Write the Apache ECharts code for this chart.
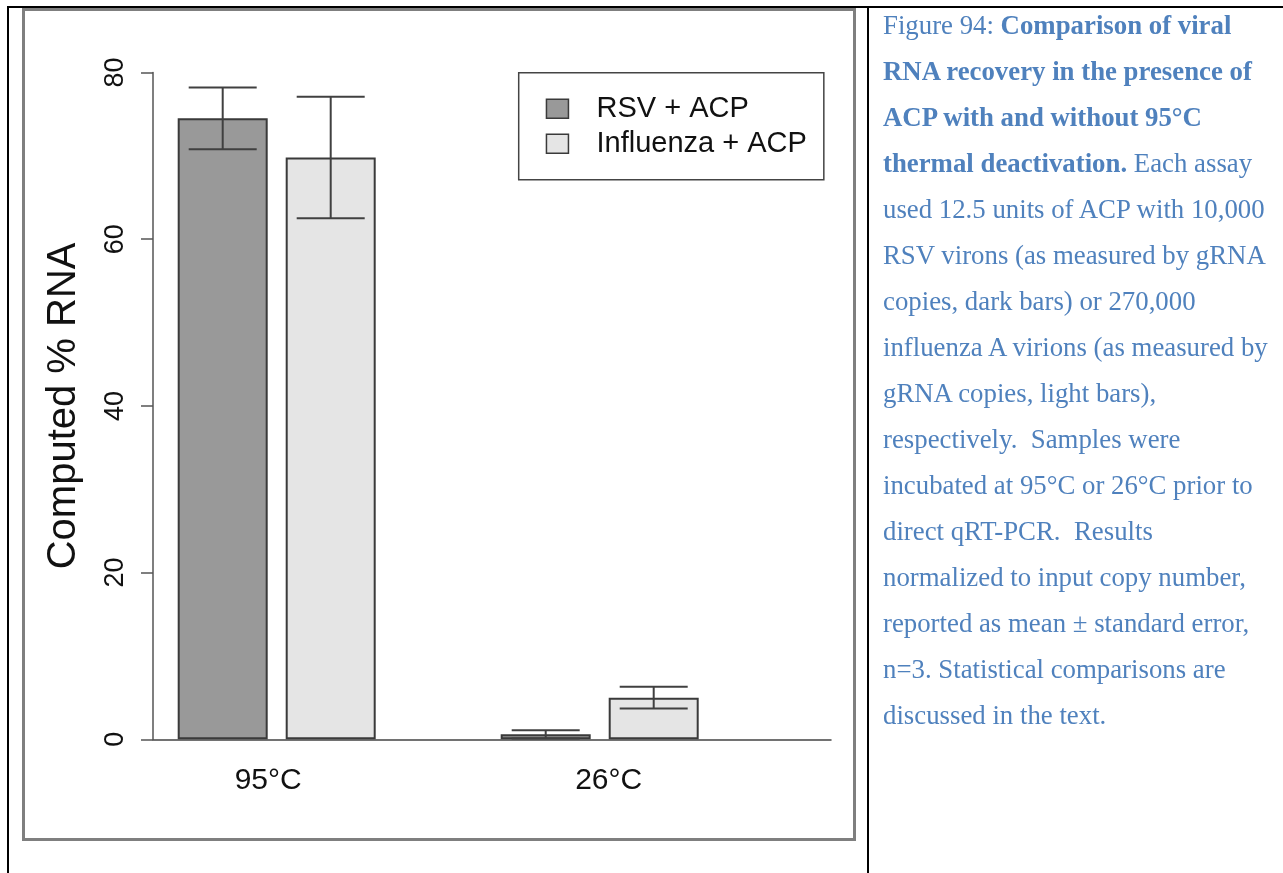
<!DOCTYPE html>
<html>
<head>
<meta charset="utf-8">
<script src="https://cdn.jsdelivr.net/npm/echarts@6/dist/echarts.min.js"></script>
<style>
  html, body { margin: 0; padding: 0; background: #fff; }
  #page { position: relative; width: 1283px; height: 873px; overflow: hidden; background: #fff; }
  .rule { position: absolute; background: #000; }
  #frame { position: absolute; left: 22px; top: 8px; width: 834px; height: 833px;
           box-sizing: border-box; border: 3px solid #7f7f7f; background: #fff; }
  #chart { position: absolute; left: 0; top: 0; width: 1283px; height: 873px; }
  #caption { position: absolute; left: 883px; top: 1.5px;
             font-family: "Liberation Serif", "Times New Roman", serif;
             font-size: 26.8px; line-height: 46px; color: #4F81BD; white-space: nowrap; }
  #caption b { font-weight: bold; }
</style>
</head>
<body>
<div id="page">
  <div class="rule" style="left:7px;top:6px;width:1276px;height:2px;"></div>
  <div class="rule" style="left:7px;top:6px;width:2px;height:867px;"></div>
  <div class="rule" style="left:867px;top:6px;width:2px;height:867px;"></div>
  <div id="frame"></div>
  <div id="chart"></div>
  <div id="caption">
    Figure 94: <b>Comparison of viral</b><br>
    <b>RNA recovery in the presence of</b><br>
    <b>ACP with and without 95°C</b><br>
    <b>thermal deactivation.</b> Each assay<br>
    used 12.5 units of ACP with 10,000<br>
    RSV virons (as measured by gRNA<br>
    copies, dark bars) or 270,000<br>
    influenza A virions (as measured by<br>
    gRNA copies, light bars),<br>
    respectively.&nbsp; Samples were<br>
    incubated at 95°C or 26°C prior to<br>
    direct qRT-PCR.&nbsp; Results<br>
    normalized to input copy number,<br>
    reported as mean ± standard error,<br>
    n=3. Statistical comparisons are<br>
    discussed in the text.
  </div>
</div>
<script>
// Incubation temperatures and series
const categories = ['95°C', '26°C'];
const seriesNames = ['RSV + ACP', 'Influenza + ACP'];

// Computed % RNA recovered: mean and standard error (n = 3)
const rsvMean = [74.5, 0.6];
const rsvSE = [3.7, 0.5];
const fluMean = [69.8, 5.0];
const fluSE = [7.3, 1.3];

// Y-axis tick values
const yTicks = [0, 20, 40, 60, 80];

// Layout
const W = 1283, H = 873;
const PLOT_TOP = 72.5, PLOT_BOTTOM = 739.3;
const BAR_WIDTH = 90, BAR_GAP = 18, CAP_WIDTH = 68;
const FONT = '"Liberation Sans", Arial, Helvetica, sans-serif';
const BAR_EDGE = '#3a3a3a';

const yMin = yTicks[0], yMax = yTicks[yTicks.length - 1], yStep = yTicks[1] - yTicks[0];
const barOffset = (BAR_WIDTH + BAR_GAP) / 2;

function errorSeries(name, means, ses, offset) {
  return {
    type: 'custom',
    name: name,
    xAxisIndex: 0,
    yAxisIndex: 0,
    z: 5,
    data: means.map((m, i) => [i, m, ses[i]]),
    renderItem(params, api) {
      const i = api.value(0), m = api.value(1), s = api.value(2);
      const x = api.coord([i, m])[0] + offset;
      const yHi = api.coord([i, m + s])[1];
      const yLo = api.coord([i, m - s])[1];
      const h = CAP_WIDTH / 2;
      const style = { stroke: '#404040', lineWidth: 2 };
      return {
        type: 'group',
        children: [
          { type: 'line', shape: { x1: x, y1: yHi, x2: x, y2: yLo }, style },
          { type: 'line', shape: { x1: x - h, y1: yHi, x2: x + h, y2: yHi }, style },
          { type: 'line', shape: { x1: x - h, y1: yLo, x2: x + h, y2: yLo }, style }
        ]
      };
    }
  };
}

const chart = echarts.init(document.getElementById('chart'), null, { renderer: 'canvas' });

chart.setOption({
  animation: false,
  backgroundColor: 'transparent',
  textStyle: { fontFamily: FONT },
  grid: [
    // bars and category labels
    { left: 115.2, right: W - 761.2, top: PLOT_TOP, bottom: H - PLOT_BOTTOM, outerBoundsMode: 'none' },
    // y axis and baseline
    { left: 153, right: W - 831, top: PLOT_TOP, bottom: H - PLOT_BOTTOM, outerBoundsMode: 'none' }
  ],
  legend: {
    data: seriesNames,
    orient: 'vertical',
    left: 518.7,
    top: 72.7,
    padding: [21, 17, 21, 27],
    itemGap: 5,
    itemWidth: 22,
    itemHeight: 19,
    icon: 'rect',
    borderColor: '#444',
    borderWidth: 1.5,
    borderRadius: 0,
    selectedMode: false,
    itemStyle: { borderColor: BAR_EDGE, borderWidth: 1.5 },
    textStyle: {
      fontFamily: FONT, fontSize: 29, color: '#111', lineHeight: 30,
      padding: [0, 0, 0, 23]
    }
  },
  xAxis: [
    {
      type: 'category',
      gridIndex: 0,
      data: categories,
      axisLine: { show: false },
      axisTick: { show: false },
      axisLabel: {
        margin: 26,
        color: '#111',
        fontFamily: FONT,
        fontSize: 30,
        formatter: (v, i) => (i === 0 ? '{l|' + v + '}' : '{r|' + v + '}'),
        rich: {
          l: { fontFamily: FONT, fontSize: 30, color: '#111', padding: [0, 17, 0, 0] },
          r: { fontFamily: FONT, fontSize: 30, color: '#111', padding: [0, 0, 0, 18] }
        }
      }
    },
    {
      type: 'value',
      gridIndex: 1,
      min: 0,
      max: 1,
      axisLine: { show: true, onZero: false, lineStyle: { color: '#444', width: 1.5 } },
      axisTick: { show: false },
      axisLabel: { show: false },
      splitLine: { show: false }
    }
  ],
  yAxis: [
    {
      type: 'value',
      gridIndex: 0,
      min: yMin, max: yMax, interval: yStep,
      show: false,
      splitLine: { show: false }
    },
    {
      type: 'value',
      gridIndex: 1,
      min: yMin, max: yMax, interval: yStep,
      name: 'Computed % RNA',
      nameLocation: 'middle',
      nameRotate: 90,
      nameGap: 69,
      nameTextStyle: { fontFamily: FONT, fontSize: 40, color: '#111' },
      axisLine: { show: true, lineStyle: { color: '#555', width: 1.5 } },
      axisTick: { show: true, length: 12, lineStyle: { color: '#555', width: 1.5 } },
      axisLabel: { rotate: 90, margin: 24, fontFamily: FONT, fontSize: 27, color: '#111' },
      splitLine: { show: false }
    }
  ],
  series: [
    {
      type: 'bar',
      name: seriesNames[0],
      xAxisIndex: 0, yAxisIndex: 0,
      data: rsvMean,
      barWidth: BAR_WIDTH,
      barGap: (BAR_GAP / BAR_WIDTH * 100) + '%',
      itemStyle: { color: '#999999', borderColor: BAR_EDGE, borderWidth: 2 }
    },
    {
      type: 'bar',
      name: seriesNames[1],
      xAxisIndex: 0, yAxisIndex: 0,
      data: fluMean,
      barWidth: BAR_WIDTH,
      barGap: (BAR_GAP / BAR_WIDTH * 100) + '%',
      itemStyle: { color: '#e5e5e5', borderColor: BAR_EDGE, borderWidth: 2 }
    },
    errorSeries('RSV error', rsvMean, rsvSE, -barOffset),
    errorSeries('Influenza error', fluMean, fluSE, barOffset)
  ]
});
</script>
</body>
</html>
